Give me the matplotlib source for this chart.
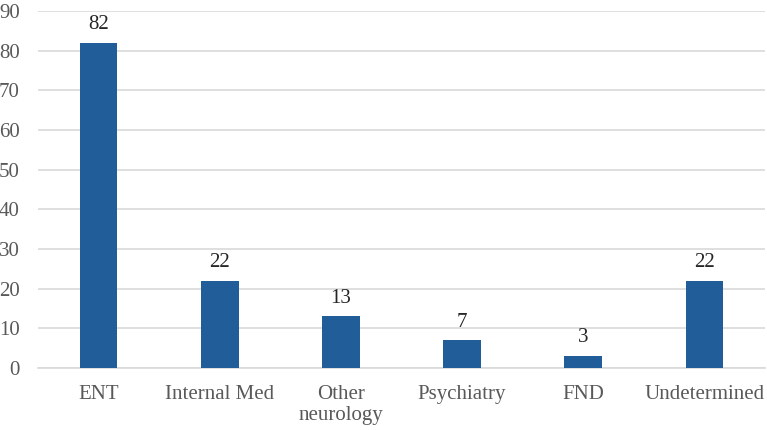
import matplotlib
matplotlib.use("Agg")
import matplotlib.pyplot as plt
import numpy as np

# Data
categories = ["ENT", "Internal Med", "Other\nneurology", "Psychiatry", "FND", "Undetermined"]
counts = [82, 22, 13, 7, 3, 22]

plt.rcParams['font.family'] = ['Liberation Serif', 'DejaVu Serif']

fig = plt.figure(figsize=(7.67, 4.30), dpi=100)
ax = fig.add_axes([38 / 767, 1 - 368 / 430, 727 / 767, (368 - 11) / 430])

x = np.arange(len(categories))
bars = ax.bar(x, counts, width=0.31, color='#215E99', zorder=3)

for xi, v in zip(x, counts):
    ax.text(xi, v + 2.2, str(v), ha='center', va='bottom', fontsize=15, color='#262626')

ax.set_xlim(-0.5, len(categories) - 0.5)
ax.set_ylim(0, 90)
ax.set_yticks(np.arange(0, 91, 10))
ax.set_xticks(x)
ax.set_xticklabels(categories, fontsize=15, color='#595959', linespacing=1.2)
ax.tick_params(axis='y', labelsize=15, labelcolor='#595959', length=0, pad=13)
ax.tick_params(axis='x', length=0, pad=12)

ax.grid(axis='y', color='#D9D9D9', linewidth=1.2, zorder=0)
for s in ['top', 'right', 'left']:
    ax.spines[s].set_visible(False)
ax.spines['bottom'].set_color('#D9D9D9')
ax.spines['bottom'].set_linewidth(1.2)

fig.savefig("out.png", dpi=100)
